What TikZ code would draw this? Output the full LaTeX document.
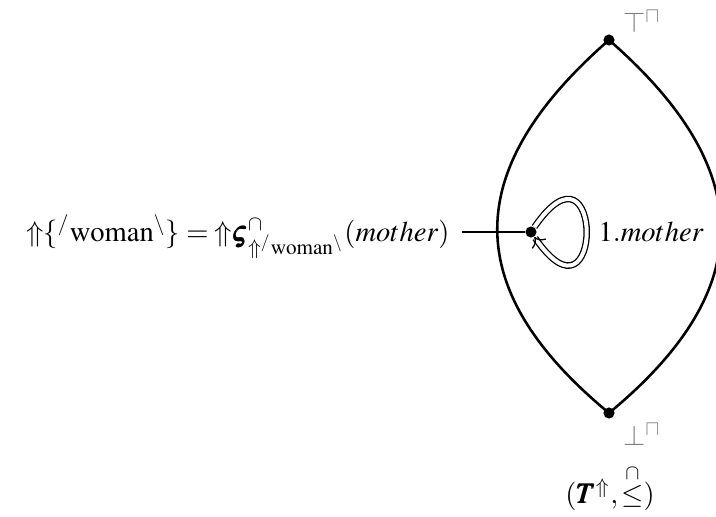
\documentclass[tikz,border=0pt]{standalone}
\usepackage{amsmath}
\usepackage{amssymb}
\usepackage{mathptmx}
\usepackage{tikz}
\usetikzlibrary{arrows.meta,positioning}
\definecolor{bndcolor}{HTML}{7F7F7F}

\begin{document}
\begin{tikzpicture}[
  x=0.35pt, y=-0.35pt,
  dot/.style={circle, fill, inner sep=0pt, minimum size=3.9pt},
  lens/.style={line width=0.9pt},
  bnd/.style={text=bndcolor, inner sep=0pt},
  loopline/.style={double, line width=0.45pt, double distance=1.4pt, -{To[length=3pt,width=6pt]}},
]
  \useasboundingbox (0,0) rectangle (716,516);

  \node[dot] (top) at (609,40) {};
  \node[dot] (bot) at (609,413) {};
  \node[dot] (m) at (531,232) {};
  \coordinate (lead) at (462,232);

  \node[bnd] (toplbl) at (642,22) {$\top^{\sqcap}$};
  \node[bnd] (botlbl) at (642,435) {$\bot^{\sqcap}$};
  \node[inner sep=0pt] (poset) at (610,488) {$(\pmb{T}^{\Uparrow},\stackrel{\cap}{\leq})$};

  \node[anchor=base east, inner sep=0pt] (eq) at (450,241)
    {${\Uparrow}\{{}^{/}\mathrm{woman}^{\backslash}\}={\Uparrow}\pmb{\varsigma}^{\cap}_{{\Uparrow}{}^{/}\mathrm{woman}^{\backslash}}(mother)$};

  % lattice outline
  \begin{scope}
    \clip (0,0) rectangle (716,516);
    \draw[lens] (top.center) .. controls (460,170) and (460,290) .. (bot.center);
    \draw[lens] (top.center) .. controls (758,170) and (758,290) .. (bot.center);
  \end{scope}

  \draw (lead) -- (m);
  \draw[loopline] (m) .. controls (604,126) and (604,338) .. (m);
  \node[anchor=base west, inner sep=0pt] (motherlbl) at (598,241) {$1.mother$};
\end{tikzpicture}
\end{document}
